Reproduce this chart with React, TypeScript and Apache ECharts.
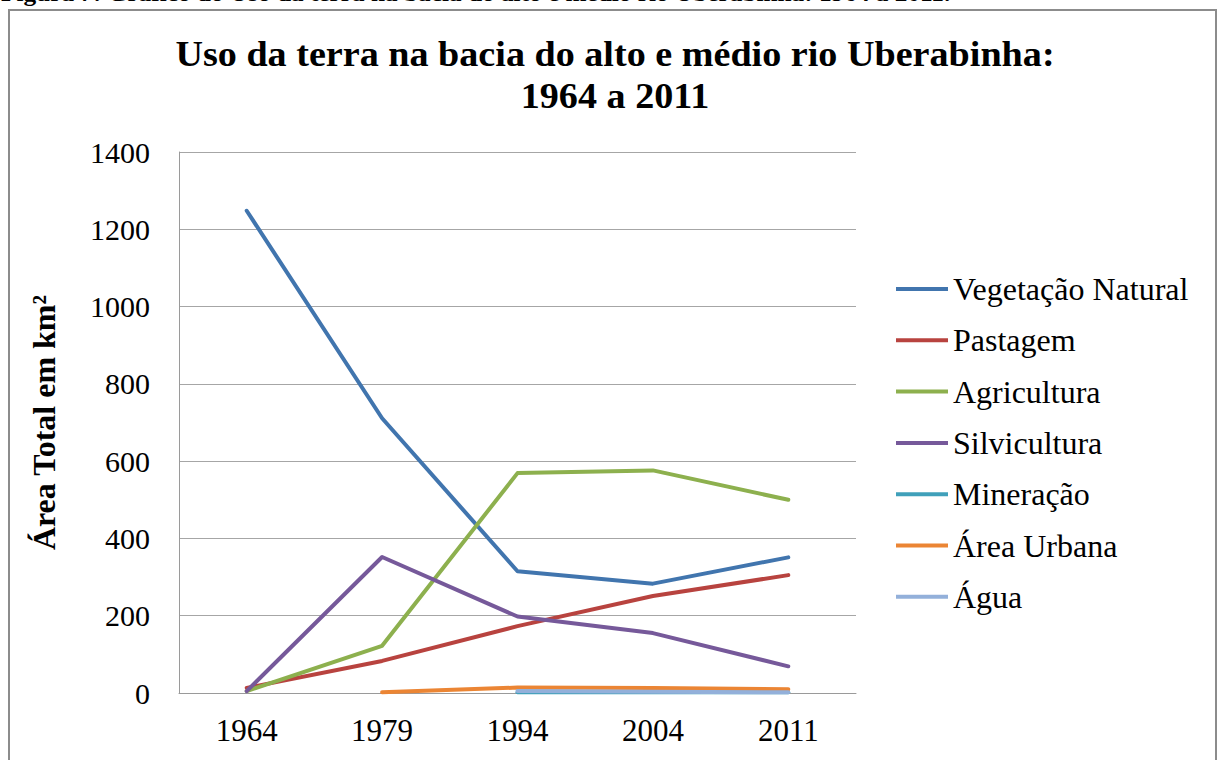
import React, { useEffect, useRef } from "react";
import * as echarts from "echarts";

const years = ["1964", "1979", "1994", "2004", "2011"];
const vegetacaoNatural = [1248, 711, 315, 283, 351];
const pastagem = [13, 83, 173, 251, 305];
const agricultura = [5, 122, 569, 576, 500];
const silvicultura = [5, 352, 198, 155, 69];
const mineracao = [null, null, 2, 2, 2];
const areaUrbana = [null, 2, 14, 13, 10];
const agua = [null, null, 5, 3, 2];

const seriesNames = [
  "Vegetação Natural",
  "Pastagem",
  "Agricultura",
  "Silvicultura",
  "Mineração",
  "Área Urbana",
  "Água",
];
const seriesData = [vegetacaoNatural, pastagem, agricultura, silvicultura, mineracao, areaUrbana, agua];
const colors = ["#4175AE", "#B8433F", "#8DB04E", "#76599A", "#40A0BA", "#EB8534", "#93B0DA"];

const FONT = '"Liberation Serif", "Times New Roman", serif';

export default function App() {
  const ref = useRef<HTMLDivElement>(null);
  useEffect(() => {
    if (!ref.current) return;
    const chart = echarts.init(ref.current, null, { renderer: "svg" });
    chart.setOption({
      animation: false,
      backgroundColor: "#ffffff",
      color: colors,
      textStyle: { fontFamily: FONT },
      graphic: [
        {
          type: "text",
          x: 1,
          y: 4,
          scaleX: 1.1,
          silent: true,
          style: {
            text: "Figura 7: Gráfico do Uso da terra na bacia do alto e médio rio Uberabinha: 1964 a 2011.",
            font: 'bold 23px "Liberation Serif", serif',
            fill: "#000",
            align: "left",
            verticalAlign: "bottom",
          },
        },
        {
          type: "rect",
          silent: true,
          shape: { x: 9, y: 10, width: 1207, height: 770 },
          style: { fill: "none", stroke: "#8C8C8C", lineWidth: 2 },
        },
        {
          type: "text",
          x: 615,
          y: 75,
          scaleX: 1.09,
          silent: true,
          style: {
            text: "Uso da terra na bacia do alto e médio rio Uberabinha:\n1964 a 2011",
            font: 'bold 35px "Liberation Serif", serif',
            fill: "#000",
            align: "center",
            verticalAlign: "middle",
            lineHeight: 42,
          },
        },
      ],
      grid: { left: 179, right: 364, top: 152, bottom: 67, containLabel: false },
      legend: {
        orient: "vertical",
        left: 896,
        top: 273,
        padding: 0,
        icon: "rect",
        itemWidth: 52,
        itemHeight: 4,
        itemGap: 19.3,
        data: seriesNames,
        textStyle: { fontFamily: FONT, fontSize: 32, color: "#000" },
      },
      xAxis: {
        type: "category",
        data: years,
        boundaryGap: true,
        axisLine: { show: true, lineStyle: { color: "#9A9A9A", width: 1 } },
        axisTick: { show: false },
        axisLabel: { fontFamily: FONT, fontSize: 31, color: "#000", margin: 22 },
      },
      yAxis: {
        type: "value",
        min: 0,
        max: 1400,
        interval: 200,
        name: "Área Total em km²",
        nameLocation: "middle",
        nameRotate: 90,
        nameGap: 119,
        nameTextStyle: { fontFamily: FONT, fontSize: 32, fontWeight: "bold", color: "#000" },
        axisLine: { show: true, lineStyle: { color: "#9A9A9A", width: 1 } },
        axisTick: { show: false },
        splitLine: { show: true, lineStyle: { color: "#A6A6A6", width: 1 } },
        axisLabel: {
          fontFamily: FONT,
          fontSize: 30,
          color: "#000",
          margin: 29,
          formatter: (v: number) => String(v),
        },
      },
      series: seriesNames.map((name, i) => ({
        name,
        type: "line",
        data: seriesData[i],
        showSymbol: false,
        symbol: "none",
        connectNulls: false,
        lineStyle: { width: 4, color: colors[i], cap: "round", join: "round" },
        itemStyle: { color: colors[i] },
      })),
    });
    return () => chart.dispose();
  }, []);
  return (
    <div
      ref={ref}
      style={{ position: "absolute", left: 0, top: 0, width: 1220, height: 760, background: "#fff" }}
    />
  );
}
